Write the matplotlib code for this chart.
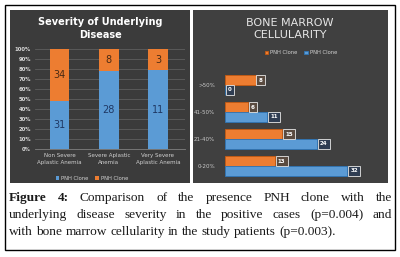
import matplotlib
matplotlib.use("Agg")
import matplotlib.pyplot as plt
from matplotlib.patches import Rectangle
import numpy as np

# ---------------- data ----------------
sev_categories = ["Non Severe\nAplastic Anemia", "Severe Aplastic\nAnemia", "Very Severe\nAplastic Anemia"]
sev_pnh_blue = [31, 28, 11]
sev_pnh_orange = [34, 8, 3]
pct_ticks = [f"{v}%" for v in range(0, 101, 10)]

bm_categories = ["0-20%", "21-40%", "41-50%", ">50%"]
bm_orange = [13, 15, 6, 8]
bm_blue = [32, 24, 11, 0]

legend_label = "PNH Clone"
title_left = "Severity of Underlying\nDisease"
title_right = "BONE MARROW\nCELLULARITY"

caption_lines = [
    [("Figure", True), ("4:", True), ("Comparison", False), ("of", False), ("the", False),
     ("presence", False), ("PNH", False), ("clone", False), ("with", False), ("the", False)],
    [("underlying", False), ("disease", False), ("severity", False), ("in", False), ("the", False),
     ("positive", False), ("cases", False), ("(p=0.004)", False), ("and", False)],
    [("with", False), ("bone", False), ("marrow", False), ("cellularity", False), ("in", False),
     ("the", False), ("study", False), ("patients", False), ("(p=0.003).", False)],
]

BLUE = "#5B9BD5"
ORANGE = "#ED7D31"
BG = "#404040"

W, H = 400, 257
fig = plt.figure(figsize=(W / 100, H / 100), dpi=100)
fig.patch.set_facecolor("white")


def fx(x):
    return x / W


def fy(y):
    return 1 - y / H


def rect_px(x0, y0, x1, y1, **kw):
    r = Rectangle((fx(x0), fy(y1)), fx(x1) - fx(x0), fy(y0) - fy(y1),
                  transform=fig.transFigure, zorder=-5, **kw)
    fig.patches.append(r)


# outer border
rect_px(5, 5, 395, 250, facecolor="none", edgecolor="black", linewidth=1.0)
# panels
rect_px(10, 10, 190, 183, facecolor="#3b3b3b", edgecolor="none")
rect_px(193, 10, 388, 183, facecolor=BG, edgecolor="none")

# ---------------- left chart ----------------
axl = fig.add_axes([fx(35), fy(149), (185 - 35) / W, (149 - 49) / H])
axl.set_facecolor("none")
tot = np.array(sev_pnh_blue) + np.array(sev_pnh_orange)
pb = np.array(sev_pnh_blue) / tot * 100
po = np.array(sev_pnh_orange) / tot * 100
x = np.arange(len(sev_categories))
bw = 0.4
axl.bar(x, pb, bw, color=BLUE, label=legend_label, zorder=3)
axl.bar(x, po, bw, bottom=pb, color=ORANGE, label=legend_label, zorder=3)
for i in range(len(x)):
    axl.text(x[i], pb[i] / 2, str(sev_pnh_blue[i]), ha="center", va="center",
             fontsize=7, color="#1f3864", zorder=4)
    axl.text(x[i], pb[i] + po[i] / 2, str(sev_pnh_orange[i]), ha="center", va="center",
             fontsize=7, color="#4a2a14", zorder=4)
axl.set_ylim(0, 100)
axl.set_xlim(-0.5, 2.55)
axl.set_yticks(range(0, 101, 10))
axl.set_yticklabels(pct_ticks, fontsize=3.8, color="#d9d9d9", fontweight="bold")
axl.set_xticks(x)
axl.set_xticklabels(sev_categories, fontsize=4.0, color="#d0d0d0", linespacing=1.5)
axl.tick_params(length=0, pad=3)
axl.grid(axis="y", color="#5e5e5e", linewidth=0.6, zorder=0)
for s in ["top", "right", "left"]:
    axl.spines[s].set_visible(False)
axl.spines["bottom"].set_color("#808080")
axl.spines["bottom"].set_linewidth(0.6)
fig.text(fx(100), fy(28.5), title_left, ha="center", va="center", fontsize=7,
         fontweight="bold", color="white", linespacing=1.3)
axl.legend(loc="center", bbox_to_anchor=(fx(92), fy(178)), bbox_transform=fig.transFigure,
           ncol=2, frameon=False, fontsize=3.8, labelcolor="#d0d0d0",
           handlelength=0.7, handleheight=0.7, handletextpad=0.4, columnspacing=1.2)

# ---------------- right chart ----------------
axr = fig.add_axes([fx(225), fy(179.5), (378 - 225) / W, (179.5 - 71.5) / H])
axr.set_facecolor("none")
y = np.arange(len(bm_categories))
bh = 0.36
axr.barh(y + bh / 2, bm_orange, bh, color=ORANGE, edgecolor="#c55a11", linewidth=0.6,
         label=legend_label, zorder=3)
axr.barh(y - bh / 2, bm_blue, bh, color=BLUE, edgecolor="#2e75b6", linewidth=0.6,
         label=legend_label, zorder=3)
for i in range(len(y)):
    axr.text(bm_orange[i] + 0.8, y[i] + bh / 2, str(bm_orange[i]), ha="left", va="center",
             fontsize=4.0, color="white", fontweight="bold", zorder=4,
             bbox=dict(boxstyle="square,pad=0.4", facecolor="#5a4b40", edgecolor="#e8e8e8",
                       linewidth=0.6))
    axr.text(bm_blue[i] + 0.8, y[i] - bh / 2, str(bm_blue[i]), ha="left", va="center",
             fontsize=4.0, color="white", fontweight="bold", zorder=4,
             bbox=dict(boxstyle="square,pad=0.4", facecolor="#2f3d52", edgecolor="#e8e8e8",
                       linewidth=0.6))
axr.set_xlim(0, 40)
axr.set_ylim(-0.5, 3.5)
axr.set_yticks(y)
axr.set_yticklabels(bm_categories, fontsize=4.0, color="#c8c8c8")
axr.set_xticks([])
axr.tick_params(length=0, pad=7)
for s in axr.spines.values():
    s.set_visible(False)
fig.text(fx(290), fy(28.5), title_right, ha="center", va="center", fontsize=8,
         color="#e6e6e6", linespacing=1.25)
axr.legend(loc="center", bbox_to_anchor=(fx(301), fy(53)), bbox_transform=fig.transFigure,
           ncol=2, frameon=False, fontsize=3.8, labelcolor="#d0d0d0",
           handlelength=0.7, handleheight=0.7, handletextpad=0.4, columnspacing=1.2)

# ---------------- caption (justified) ----------------
renderer = fig.canvas.get_renderer()
cap_fs = 9.6
cap_family = "Liberation Serif"
left_x, right_x = 9, 392
baselines = [201, 218, 235]
for li, words in enumerate(caption_lines):
    objs = []
    for w, b in words:
        t = fig.text(0, fy(baselines[li]), w, fontsize=cap_fs, family=cap_family,
                     fontweight="bold" if b else "normal", color="#1a1a1a",
                     ha="left", va="baseline")
        objs.append(t)
    widths = [o.get_window_extent(renderer).width for o in objs]
    if li < len(caption_lines) - 1:
        gap = (right_x - left_x - sum(widths)) / (len(objs) - 1)
    else:
        sp = fig.text(0, 0, "a a", fontsize=cap_fs, family=cap_family)
        sp2 = fig.text(0, 0, "aa", fontsize=cap_fs, family=cap_family)
        gap = sp.get_window_extent(renderer).width - sp2.get_window_extent(renderer).width
        sp.remove(); sp2.remove()
    cx = left_x
    for o, wd in zip(objs, widths):
        o.set_x(fx(cx))
        cx += wd + gap

fig.savefig("out.png", dpi=100, facecolor="white")
